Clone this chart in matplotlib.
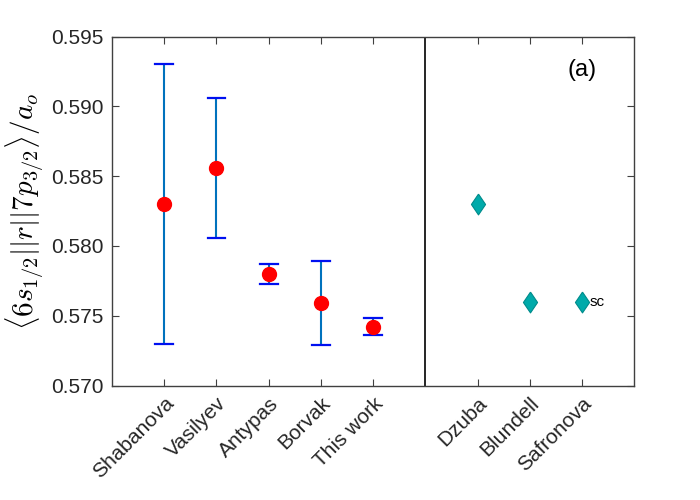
import numpy as np
import matplotlib.pyplot as plt

plt.rcParams['font.family'] = ['Liberation Sans', 'DejaVu Sans']
plt.rcParams['mathtext.fontset'] = 'cm'

# experiments (with error bars)
exp_names = ["Shabanova", "Vasilyev", "Antypas", "Borvak", "This work"]
exp_vals = [0.5830, 0.5856, 0.5780, 0.5759, 0.5742]
exp_errs = [0.0100, 0.0050, 0.0007, 0.0030, 0.0006]

# theory values
th_names = ["Dzuba", "Blundell", "Safronova"]
th_vals = [0.5830, 0.5760, 0.5760]

exp_x = np.arange(1, 6)
th_x = np.arange(7, 10)

fig = plt.figure(figsize=(7, 5), dpi=100)
ax = fig.add_axes([0.16, 0.229, 0.746, 0.698])

ax.errorbar(exp_x, exp_vals, yerr=exp_errs, fmt='none', ecolor='#0072BD',
            elinewidth=1.5, capsize=0, zorder=2)
# caps in brighter blue
for x, v, e in zip(exp_x, exp_vals, exp_errs):
    ax.plot([x - 0.17, x + 0.17], [v + e, v + e], color='#0010F0', lw=1.6, zorder=3)
    ax.plot([x - 0.17, x + 0.17], [v - e, v - e], color='#0010F0', lw=1.6, zorder=3)
ax.plot(exp_x, exp_vals, 'o', color='red', markersize=10, zorder=4)

# matlab-like diamond (taller than wide)
diamond = [(0, 1), (0.68, 0), (0, -1), (-0.68, 0), (0, 1)]
ax.plot(th_x, th_vals, marker=diamond, color='#00AAAA', markeredgecolor='#008B8B',
        markersize=15, markeredgewidth=0.8, linestyle='none', zorder=4)
ax.text(th_x[2] + 0.15, th_vals[2], "sc", fontsize=11, va='center', ha='left')

ax.axvline(6, color='black', lw=1.2)

ax.set_xlim(0, 10)
ax.set_ylim(0.570, 0.595)
ax.set_xticks(list(exp_x) + list(th_x))
ax.set_xticklabels(exp_names + th_names, rotation=45, ha='right',
                   rotation_mode='anchor', fontsize=15)
ax.set_yticks(np.arange(0.570, 0.5951, 0.005))
ax.set_yticklabels(["%.3f" % t for t in np.arange(0.570, 0.5951, 0.005)], fontsize=15)
ax.tick_params(direction='in', top=True, right=True, length=5, color='#404040',
               labelcolor='#262626', pad=6)
for s in ax.spines.values():
    s.set_color('#404040')
    s.set_linewidth(1.0)

ax.set_ylabel(r'$\langle 6s_{1/2}||r||7p_{3/2}\rangle/a_o$', fontsize=21, labelpad=4)
ax.text(0.9, 0.905, "(a)", transform=ax.transAxes, fontsize=17, ha='center', va='center')

fig.savefig("out.png", dpi=100)
